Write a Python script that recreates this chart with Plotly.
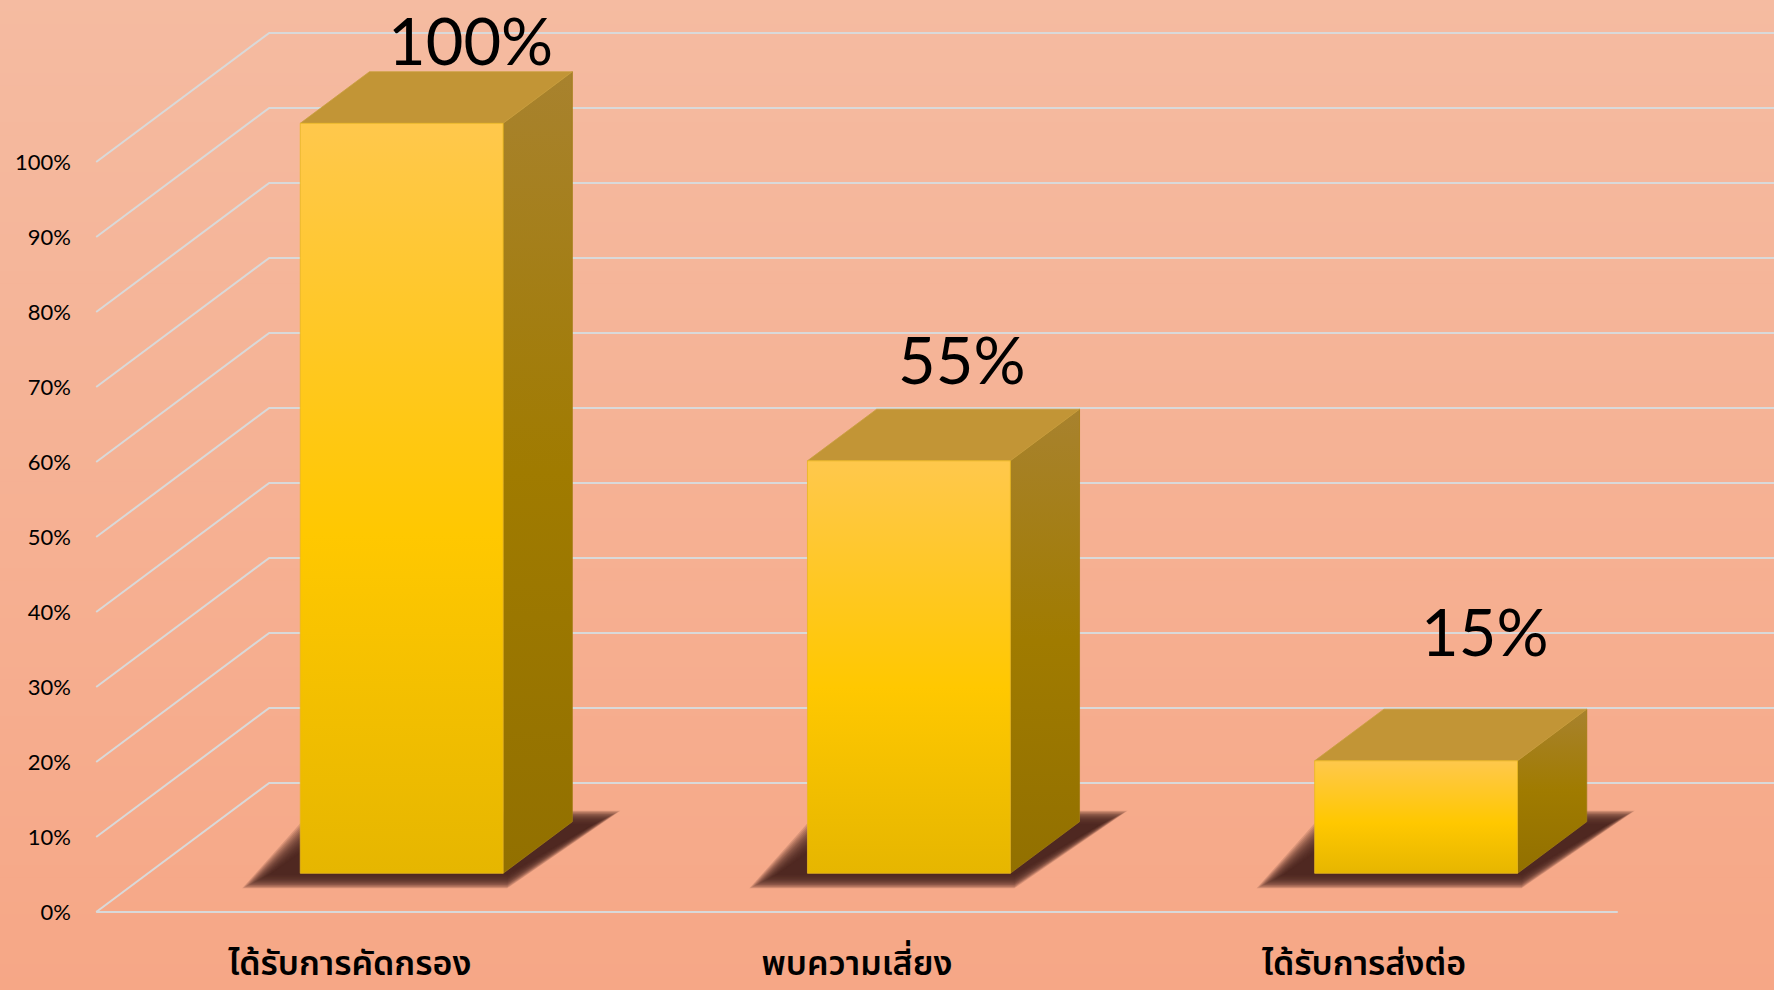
import plotly.graph_objects as go

# ---------------- data ----------------
categories = ["ได้รับการคัดกรอง", "พบความเสี่ยง", "ได้รับการส่งต่อ"]
values = [100, 55, 15]
value_labels = ["100%", "55%", "15%"]
tick_values = [0, 10, 20, 30, 40, 50, 60, 70, 80, 90, 100]
tick_labels = ["0%", "10%", "20%", "30%", "40%", "50%", "60%", "70%", "80%", "90%", "100%"]

# ---------------- layout / style constants ----------------
W, H = 1774, 990
ML, MB = 76, 52
PX_PER_PCT = 7.5          # vertical pixels per percent
ZERO_PX = 912             # pixel row of 0 % on the front plane
PX_PER_CAT = 507.2        # horizontal pixels per category
LEFT_PX = 96.2            # pixel column of the front-left corner (x = -0.5)

Y0 = -(H - MB - ZERO_PX) / PX_PER_PCT
Y1 = ZERO_PX / PX_PER_PCT
X0 = -0.5 - (LEFT_PX - ML) / PX_PER_CAT
X1 = -0.5 + (W - LEFT_PX) / PX_PER_CAT

DX = 173 / PX_PER_CAT     # depth vector (category units)
DY = 129 / PX_PER_PCT     # depth vector (percent units)
BW = 0.40                 # bar width
D_FRONT, D_BACK = 0.3, 0.7
label_xshift = [0, -16, 0]
label_yshift = [32, 50, 78]

GRID = "#D9D9D9"
TOP_BG = (245, 187, 161)
BOT_BG = (246, 167, 134)

fig = go.Figure()

# ---------------- background gradient ----------------
shapes = []
N = 80
for i in range(N):
    p_top = H * i / N
    p_bot = H * (i + 1) / N
    t = (i + 0.5) / N
    c = tuple(round(TOP_BG[k] + (BOT_BG[k] - TOP_BG[k]) * t) for k in range(3))
    shapes.append(dict(
        type="rect", xref="paper", yref="paper", layer="below",
        x0=-ML / (W - ML), x1=1.01,
        y0=(H - MB - p_bot) / (H - MB), y1=(H - MB - p_top) / (H - MB) + 0.001,
        fillcolor="rgb(%d,%d,%d)" % c, line=dict(width=0)))

# ---------------- 3D gridlines ----------------
for v in tick_values:
    fig.add_trace(go.Scatter(
        x=[-0.5, -0.5 + DX, X1 + 0.2], y=[v, v + DY, v + DY],
        mode="lines", line=dict(color=GRID, width=2),
        hoverinfo="skip", showlegend=False, cliponaxis=False))
fig.add_trace(go.Scatter(
    x=[-0.5, len(categories) - 0.5], y=[0, 0],
    mode="lines", line=dict(color=GRID, width=2),
    hoverinfo="skip", showlegend=False))

# ---------------- bars ----------------
for i, v in enumerate(values):
    xl = i - BW / 2 + D_FRONT * DX
    xr = i + BW / 2 + D_FRONT * DX
    yb = D_FRONT * DY
    ddx = (D_BACK - D_FRONT) * DX
    ddy = (D_BACK - D_FRONT) * DY

    # soft shadow (stacked translucent footprints around a dark core)
    sy = -4 / PX_PER_PCT
    NL = 18
    for k in range(NL):
        b = 14 - 28 * k / (NL - 1)          # blur offset around core (px)
        exl = (44 + b) / PX_PER_CAT          # left growth
        exr = (34 + b) / PX_PER_CAT          # right growth
        eyb = (4 + b * 0.5) / PX_PER_PCT     # below front edge
        eyt = (8 + b * 0.5) / PX_PER_PCT     # above back edge
        fig.add_trace(go.Scatter(
            x=[xl - exl, xr + 4 / PX_PER_CAT, xr + ddx + exr, xl + ddx - exl, xl - exl],
            y=[yb - eyb + sy, yb - eyb + sy, yb + ddy + eyt + sy, yb + ddy + eyt + sy, yb - eyb + sy],
            mode="lines", fill="toself", fillcolor="rgba(72,40,30,0.16)",
            line=dict(width=0), hoverinfo="skip", showlegend=False))

    # side face
    fig.add_trace(go.Scatter(
        x=[xr, xr + ddx, xr + ddx, xr, xr],
        y=[yb, yb + ddy, yb + v + ddy, yb + v, yb],
        mode="lines", fill="toself",
        fillgradient=dict(type="vertical",
                          colorscale=[[0, "#927000"], [0.5, "#A07B00"], [1, "#A8822E"]]),
        line=dict(width=0.8, color="#A07B10"),
        hoverinfo="skip", showlegend=False))
    # top face
    fig.add_trace(go.Scatter(
        x=[xl, xr, xr + ddx, xl + ddx, xl],
        y=[yb + v, yb + v, yb + v + ddy, yb + v + ddy, yb + v],
        mode="lines", fill="toself", fillcolor="#C29536",
        line=dict(width=0.8, color="#C9A040"),
        hoverinfo="skip", showlegend=False))
    # front face
    fig.add_trace(go.Scatter(
        x=[xl, xr, xr, xl, xl],
        y=[yb, yb, yb + v, yb + v, yb],
        mode="lines", fill="toself",
        fillgradient=dict(type="vertical",
                          colorscale=[[0, "#E6B600"], [0.45, "#FFC800"], [1, "#FFC84C"]]),
        line=dict(width=0.8, color="#E8B820"),
        hoverinfo="skip", showlegend=False))

    fig.add_annotation(
        x=i + D_BACK * DX, y=v + D_BACK * DY, text=value_labels[i],
        showarrow=False, xanchor="center", yanchor="middle",
        xshift=label_xshift[i], yshift=label_yshift[i],
        font=dict(family="Lato, Roboto, sans-serif", size=65, color="#000000"))

fig.update_layout(
    width=W, height=H,
    margin=dict(l=ML, r=0, t=0, b=MB, pad=0),
    paper_bgcolor="rgb(245,177,148)", plot_bgcolor="rgba(0,0,0,0)",
    shapes=shapes, showlegend=False,
    xaxis=dict(range=[X0, X1], showgrid=False, zeroline=False, showline=False,
               automargin=False,
               tickmode="array", tickvals=list(range(len(categories))), ticktext=categories,
               ticks="", ticklabelstandoff=2,
               tickfont=dict(family="Noto Sans Thai, Tahoma, Noto Sans, sans-serif", size=34,
                             color="#000000", weight=600),
               fixedrange=True),
    yaxis=dict(range=[Y0, Y1], showgrid=False, zeroline=False, showline=False,
               automargin=False,
               tickmode="array", tickvals=tick_values, ticktext=tick_labels,
               ticks="", ticklabelstandoff=4,
               tickfont=dict(family="Lato, Roboto, sans-serif", size=22, color="#000000"),
               fixedrange=True),
)

fig.write_html("out.html")
